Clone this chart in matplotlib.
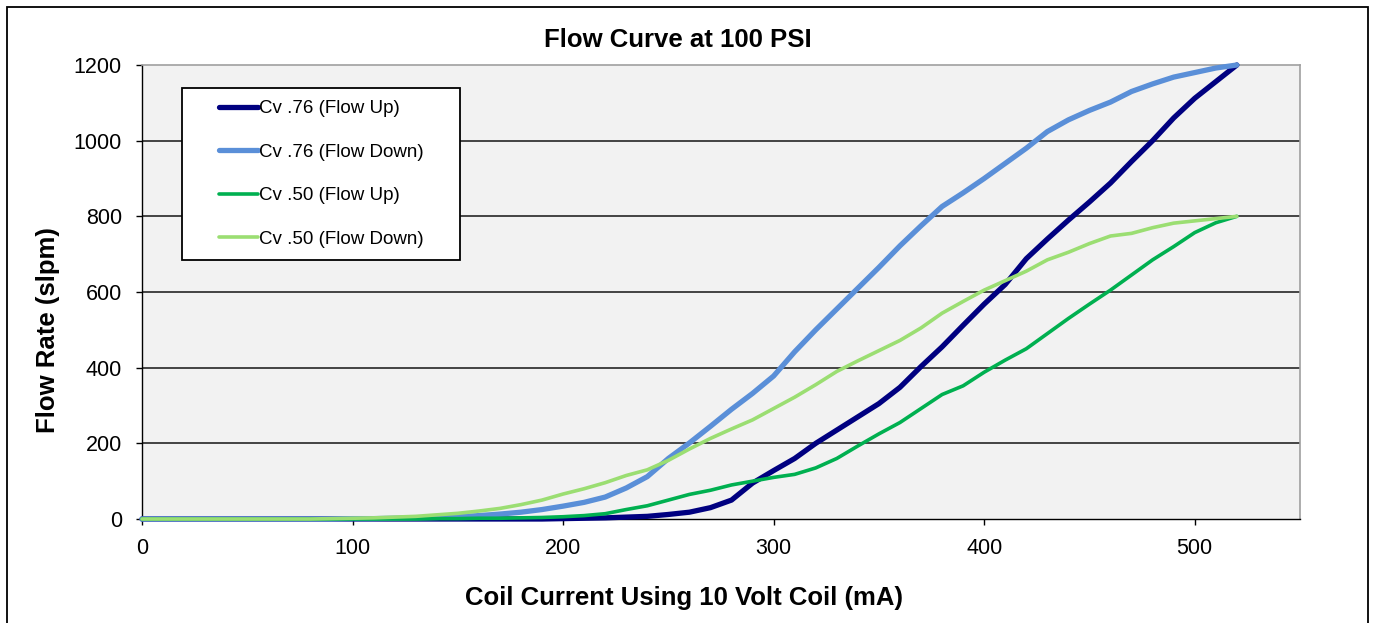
import matplotlib
matplotlib.use("Agg")
import matplotlib.pyplot as plt
from matplotlib.patches import Rectangle

plt.rcParams['font.family'] = ['Liberation Sans', 'DejaVu Sans']

# ---- data ----
current_ma = [0, 10, 20, 30, 40, 50, 60, 70, 80, 90,
              100, 110, 120, 130, 140, 150, 160, 170, 180, 190,
              200, 210, 220, 230, 240, 250, 260, 270, 280, 290,
              300, 310, 320, 330, 340, 350, 360, 370, 380, 390,
              400, 410, 420, 430, 440, 450, 460, 470, 480, 490,
              500, 510, 520]

cv76_up = [0, 0, 0, 0, 0, 0, 0, 0, 0, 0,
           0, 0, 0, 0, 0, 0, 0, 0, 0, 0,
           1, 2, 3, 5, 7, 12, 18, 30, 50, 95,
           128, 160, 200, 235, 270, 305, 348, 403, 455, 512,
           568, 620, 688, 740, 790, 838, 888, 945, 1000, 1060,
           1112, 1156, 1200]

cv76_down = [0, 0, 0, 0, 0, 0, 0, 0, 0, 0,
             1, 1, 2, 3, 4, 6, 9, 13, 18, 25,
             34, 44, 58, 82, 112, 160, 201, 245, 290, 332,
             378, 442, 500, 555, 610, 665, 722, 775, 826, 862,
             900, 940, 980, 1024, 1055, 1080, 1102, 1130, 1150, 1168,
             1180, 1192, 1200]

cv50_up = [0, 0, 0, 0, 0, 0, 0, 0, 0, 0,
           0, 0, 0, 0, 1, 1, 2, 2, 3, 4,
           6, 9, 14, 25, 35, 50, 65, 76, 90, 100,
           110, 118, 135, 160, 193, 225, 255, 292, 329, 352,
           388, 420, 450, 490, 530, 568, 605, 645, 685, 720,
           757, 783, 800]

cv50_down = [0, 0, 0, 0, 0, 0, 0, 0, 0, 1,
             2, 3, 5, 7, 11, 15, 21, 28, 38, 50,
             66, 80, 96, 115, 130, 155, 185, 213, 238, 262,
             292, 322, 355, 390, 418, 445, 472, 505, 544, 575,
             605, 630, 655, 685, 705, 728, 748, 755, 770, 782,
             788, 794, 800]

series_labels = ['Cv .76 (Flow Up)', 'Cv .76 (Flow Down)',
                 'Cv .50 (Flow Up)', 'Cv .50 (Flow Down)']
x_ticks = [0, 100, 200, 300, 400, 500]
y_ticks = [0, 200, 400, 600, 800, 1000, 1200]

title = 'Flow Curve at 100 PSI'
x_label = 'Coil Current Using 10 Volt Coil (mA)'
y_label = 'Flow Rate (slpm)'

# ---- figure ----
W, H = 1376, 623
fig = plt.figure(figsize=(W / 100, H / 100), dpi=100)
fig.patch.set_facecolor('white')

left, right, top, bottom = 142, 1300, 65, 519
ax = fig.add_axes([left / W, 1 - bottom / H, (right - left) / W, (bottom - top) / H])
ax.set_facecolor('#F2F2F2')

ax.set_xlim(0, 550)
ax.set_ylim(0, 1200)
ax.set_xticks(x_ticks)
ax.set_yticks(y_ticks)

for yv in y_ticks[1:-1]:
    ax.axhline(yv, color='#262626', lw=1.2, zorder=1)

styles = [('#000080', 3.8), ('#5A8FD8', 3.8), ('#00B050', 2.6), ('#9BDE72', 2.6)]
series = [cv76_up, cv76_down, cv50_up, cv50_down]
handles = []
for data, lab, (col, lw) in zip(series, series_labels, styles):
    h, = ax.plot(current_ma, data, color=col, lw=lw, label=lab, zorder=3,
                 solid_joinstyle='round', solid_capstyle='round', clip_on=False)
    handles.append(h)

for s in ['left', 'bottom']:
    ax.spines[s].set_color('#000000')
    ax.spines[s].set_linewidth(1.0)
for s in ['top', 'right']:
    ax.spines[s].set_color('#A0A0A0')
    ax.spines[s].set_linewidth(1.2)

ax.tick_params(axis='both', direction='out', length=4.5, width=1.0, color='#000000',
               labelsize=15.5, labelcolor='#000000')
ax.tick_params(axis='y', pad=10)
ax.tick_params(axis='x', pad=9)

fig.text(678 / W, 1 - 40 / H, title, ha='center', va='center',
         fontsize=18.5, fontweight='bold')
fig.text(684 / W, 1 - 598 / H, x_label, ha='center', va='center',
         fontsize=18.5, fontweight='bold')
fig.text(48 / W, 1 - 330 / H, y_label, ha='center', va='center',
         fontsize=18.5, fontweight='bold', rotation=90)

# legend box
fig.patches.append(Rectangle((182 / W, 1 - 260 / H), (460 - 182) / W, (260 - 88) / H,
                             transform=fig.transFigure, facecolor='white',
                             edgecolor='#000000', lw=1.3, zorder=5))
leg = fig.legend(handles=handles, labels=series_labels, loc='center left',
                 bbox_to_anchor=(219 / W, 1 - 174 / H), frameon=False,
                 fontsize=13.5, handlelength=2.1, handletextpad=0.05,
                 labelspacing=1.4, borderpad=0, borderaxespad=0)
leg.set_zorder(6)

# outer frame
fig.patches.append(Rectangle((7 / W, -0.05), (1368 - 7) / W, 1.05 - 7 / H,
                             transform=fig.transFigure, facecolor='none',
                             edgecolor='#000000', lw=1.3, zorder=0))

fig.savefig('out.png', dpi=100)
